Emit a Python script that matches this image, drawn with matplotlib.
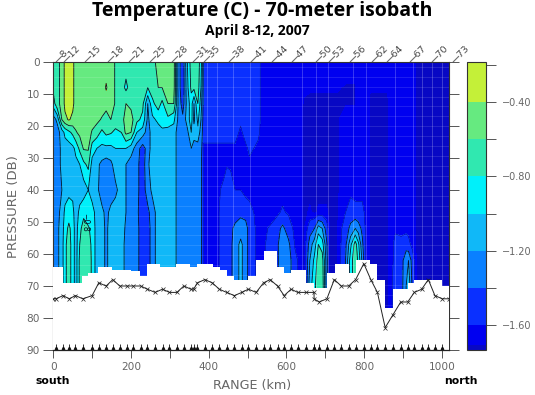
"""Temperature section along the 70-meter isobath, April 2007."""

import matplotlib
matplotlib.use("Agg")
import matplotlib.pyplot as plt
import numpy as np

depths = [0, 8, 13, 18, 22, 27, 32, 40, 47, 52, 57, 62, 70, 80]

# one row per column of the section: range (km), then temperature at each depth
section_km = [0, 10, 22, 30, 40, 50, 58, 68, 78, 90, 100, 112, 125, 136, 148, 160, 175, 187, 200, 215,
              230, 243, 255, 270, 280, 295, 310, 322, 333, 345, 355, 362, 372, 380, 387, 420, 440, 446,
              456, 468, 482, 495, 505, 527, 535, 568, 590, 605, 622, 635, 645, 660, 672, 682, 692, 703,
              712, 730, 752, 765, 777, 785, 795, 805, 815, 860, 872, 880, 895, 908, 914, 924, 935, 1019]
temperature = [
    [-.75, -.75, -.90, -1.3, -1.3, -1.3, -1.3, -1.3, -1.3, -1.3, -1.3, -1.3, -1.3, -1.3],
    [-.65, -.65, -.65, -1.15, -1.3, -1.3, -1.3, -1.3, -1.25, -1.25, -1.25, -1.25, -1.25, -1.25],
    [-.55, -.55, -.55, -.60, -1.1, -1.15, -1.15, -1.2, -1.15, -1.1, -1.1, -1.1, -1.1, -1.1],
    [-.35, -.35, -.35, -.45, -.95, -1.1, -1.1, -1.1, -.95, -.90, -.85, -.85, -.85, -.85],
    [-.35, -.35, -.35, -.38, -.85, -1.1, -1.1, -1.05, -.90, -.75, -.70, -.70, -.70, -.70],
    [-.35, -.35, -.35, -.45, -.75, -1.05, -1.1, -1.05, -.95, -.90, -.90, -.90, -.90, -.90],
    [-.50, -.50, -.50, -.50, -.62, -.95, -1.05, -1.1, -1.1, -1.1, -1.1, -1.1, -1.1, -1.1],
    [-.50, -.50, -.50, -.50, -.55, -.75, -1.0, -1.1, -.95, -.85, -.80, -.75, -.75, -.75],
    [-.50, -.50, -.50, -.50, -.52, -.58, -.85, -1.1, -.85, -.72, -.68, -.65, -.60, -.60],
    [-.50, -.50, -.50, -.50, -.52, -.58, -.75, -1.0, -.90, -.78, -.70, -.65, -.65, -.65],
    [-.50, -.50, -.50, -.52, -.62, -.90, -1.08, -1.12, -.90, -.85, -.85, -.85, -.85, -.85],
    [-.50, -.50, -.50, -.55, -.70, -1.0, -1.15, -1.15, -1.1, -1.1, -1.1, -1.1, -1.1, -1.1],
    [-.50, -.50, -.50, -.62, -.85, -1.05, -1.25, -1.3, -1.15, -1.1, -1.1, -1.1, -1.1, -1.1],
    [-.50, -.38, -.50, -.72, -.75, -1.05, -1.3, -1.3, -1.25, -1.25, -1.25, -1.25, -1.25, -1.25],
    [-.50, -.50, -.50, -.60, -.78, -1.05, -1.25, -1.3, -1.15, -1.1, -1.1, -1.1, -1.1, -1.1],
    [-.62, -.62, -.62, -.68, -.85, -1.0, -1.1, -1.25, -1.1, -1.05, -1.05, -1.05, -1.05, -1.05],
    [-.70, -.70, -.70, -.70, -.80, -1.0, -1.1, -1.1, -1.05, -1.05, -1.05, -1.05, -1.05, -1.05],
    [-.70, -.85, -.60, -.50, -.55, -1.0, -1.2, -1.2, -1.2, -1.25, -1.3, -1.3, -1.3, -1.3],
    [-.70, -.70, -.65, -.52, -.60, -1.1, -1.3, -1.3, -1.3, -1.3, -1.3, -1.3, -1.3, -1.3],
    [-.70, -.70, -.70, -.75, -1.0, -1.3, -1.35, -1.35, -1.35, -1.35, -1.35, -1.35, -1.35, -1.35],
    [-.70, -.70, -.75, -.85, -1.1, -1.5, -1.5, -1.5, -1.55, -1.5, -1.5, -1.5, -1.5, -1.5],
    [-.70, -.80, -1.2, -1.25, -1.3, -1.3, -1.25, -1.3, -1.45, -1.5, -1.5, -1.5, -1.5, -1.5],
    [-.70, -.70, -.85, -1.05, -1.1, -1.1, -1.05, -1.15, -1.3, -1.3, -1.3, -1.3, -1.3, -1.3],
    [-.50, -.60, -.70, -.95, -1.1, -1.1, -1.1, -1.1, -1.1, -1.1, -1.1, -1.1, -1.1, -1.1],
    [-.50, -.60, -.85, -.90, -1.05, -1.1, -1.1, -1.1, -1.1, -1.1, -1.1, -1.1, -1.1, -1.1],
    [-.50, -.52, -.60, -.85, -1.1, -1.1, -1.1, -1.1, -1.1, -1.1, -1.1, -1.1, -1.1, -1.1],
    [-.50, -.52, -.60, -.95, -1.1, -1.1, -1.1, -1.1, -1.1, -1.1, -1.1, -1.1, -1.1, -1.1],
    [-1.3, -1.3, -1.25, -1.25, -1.3, -1.3, -1.3, -1.3, -1.3, -1.3, -1.3, -1.3, -1.3, -1.3],
    [-1.55, -1.55, -1.5, -1.35, -1.3, -1.3, -1.3, -1.3, -1.3, -1.3, -1.3, -1.3, -1.3, -1.3],
    [-1.0, -1.05, -1.1, -1.1, -1.25, -1.3, -1.3, -1.3, -1.3, -1.3, -1.3, -1.3, -1.3, -1.3],
    [-.70, -.75, -.90, -.90, -1.0, -1.2, -1.25, -1.3, -1.3, -1.3, -1.3, -1.3, -1.3, -1.3],
    [-.70, -.75, -1.2, -1.25, -1.1, -1.3, -1.3, -1.3, -1.3, -1.3, -1.3, -1.3, -1.3, -1.3],
    [-.70, -.70, -.80, -.95, -1.05, -1.3, -1.3, -1.3, -1.3, -1.3, -1.3, -1.3, -1.3, -1.3],
    [-.90, -1.0, -1.1, -1.2, -1.3, -1.3, -1.35, -1.35, -1.35, -1.35, -1.35, -1.35, -1.35, -1.35],
    [-1.5, -1.5, -1.5, -1.5, -1.5, -1.65, -1.65, -1.65, -1.65, -1.65, -1.65, -1.65, -1.65, -1.65],
    [-1.5, -1.5, -1.5, -1.5, -1.5, -1.65, -1.65, -1.65, -1.65, -1.65, -1.65, -1.65, -1.65, -1.65],
    [-1.5, -1.5, -1.5, -1.5, -1.5, -1.65, -1.65, -1.55, -1.5, -1.5, -1.5, -1.5, -1.5, -1.5],
    [-1.5, -1.5, -1.5, -1.5, -1.5, -1.65, -1.62, -1.45, -1.45, -1.45, -1.45, -1.42, -1.42, -1.42],
    [-1.5, -1.5, -1.5, -1.5, -1.5, -1.65, -1.63, -1.5, -1.45, -1.45, -1.45, -1.45, -1.45, -1.45],
    [-1.5, -1.5, -1.5, -1.5, -1.5, -1.65, -1.65, -1.6, -1.5, -1.35, -1.3, -1.3, -1.3, -1.3],
    [-1.5, -1.5, -1.5, -1.55, -1.65, -1.65, -1.65, -1.6, -1.45, -1.3, -1.15, -1.15, -1.15, -1.15],
    [-1.5, -1.5, -1.5, -1.5, -1.5, -1.65, -1.65, -1.65, -1.5, -1.3, -1.3, -1.3, -1.3, -1.3],
    [-1.5, -1.5, -1.5, -1.5, -1.5, -1.55, -1.65, -1.65, -1.55, -1.5, -1.5, -1.5, -1.5, -1.5],
    [-1.5, -1.5, -1.5, -1.5, -1.55, -1.65, -1.65, -1.65, -1.65, -1.65, -1.65, -1.65, -1.65, -1.65],
    [-1.65, -1.65, -1.65, -1.65, -1.65, -1.65, -1.65, -1.65, -1.65, -1.65, -1.65, -1.65, -1.65, -1.65],
    [-1.65, -1.65, -1.65, -1.65, -1.65, -1.65, -1.65, -1.65, -1.65, -1.55, -1.5, -1.5, -1.5, -1.5],
    [-1.65, -1.65, -1.65, -1.65, -1.65, -1.65, -1.65, -1.65, -1.58, -1.35, -1.3, -1.3, -1.3, -1.3],
    [-1.65, -1.65, -1.65, -1.65, -1.65, -1.65, -1.65, -1.65, -1.62, -1.5, -1.35, -1.3, -1.3, -1.3],
    [-1.65, -1.65, -1.65, -1.65, -1.65, -1.65, -1.65, -1.65, -1.65, -1.65, -1.62, -1.55, -1.55, -1.55],
    [-1.65, -1.65, -1.65, -1.65, -1.65, -1.65, -1.65, -1.65, -1.65, -1.65, -1.65, -1.65, -1.65, -1.65],
    [-1.65, -1.68, -1.73, -1.73, -1.73, -1.73, -1.73, -1.73, -1.73, -1.73, -1.73, -1.73, -1.73, -1.73],
    [-1.65, -1.70, -1.73, -1.73, -1.73, -1.73, -1.73, -1.73, -1.70, -1.5, -1.3, -1.2, -1.1, -1.1],
    [-1.65, -1.70, -1.73, -1.73, -1.73, -1.73, -1.73, -1.73, -1.73, -1.4, -1.1, -.95, -.85, -.85],
    [-1.65, -1.70, -1.73, -1.73, -1.73, -1.73, -1.73, -1.73, -1.70, -1.1, -.80, -.70, -.65, -.65],
    [-1.65, -1.70, -1.73, -1.73, -1.73, -1.73, -1.73, -1.73, -1.70, -1.2, -.90, -.70, -.65, -.65],
    [-1.65, -1.70, -1.73, -1.73, -1.73, -1.73, -1.73, -1.73, -1.70, -1.5, -1.35, -1.3, -1.3, -1.3],
    [-1.65, -1.70, -1.73, -1.73, -1.73, -1.73, -1.73, -1.73, -1.73, -1.73, -1.73, -1.73, -1.73, -1.73],
    [-1.65, -1.70, -1.73, -1.73, -1.73, -1.73, -1.73, -1.73, -1.73, -1.73, -1.73, -1.73, -1.73, -1.73],
    [-1.65, -1.72, -1.72, -1.65, -1.65, -1.65, -1.65, -1.65, -1.60, -1.5, -1.45, -1.4, -1.4, -1.4],
    [-1.65, -1.72, -1.72, -1.65, -1.65, -1.65, -1.65, -1.65, -1.5, -1.35, -1.05, -.90, -.90, -.90],
    [-1.65, -1.72, -1.72, -1.65, -1.65, -1.65, -1.65, -1.65, -1.55, -1.2, -.70, -.65, -.65, -.65],
    [-1.65, -1.65, -1.65, -1.65, -1.65, -1.65, -1.65, -1.65, -1.55, -1.3, -.95, -.85, -.85, -.85],
    [-1.65, -1.65, -1.65, -1.65, -1.65, -1.65, -1.65, -1.65, -1.55, -1.45, -1.35, -1.25, -1.25, -1.25],
    [-1.65, -1.65, -1.65, -1.65, -1.65, -1.65, -1.65, -1.65, -1.65, -1.65, -1.65, -1.65, -1.65, -1.65],
    [-1.65, -1.70, -1.73, -1.73, -1.73, -1.73, -1.73, -1.73, -1.73, -1.73, -1.73, -1.73, -1.73, -1.73],
    [-1.65, -1.70, -1.73, -1.73, -1.73, -1.73, -1.73, -1.73, -1.73, -1.73, -1.73, -1.73, -1.73, -1.73],
    [-1.65, -1.65, -1.65, -1.65, -1.65, -1.65, -1.65, -1.65, -1.65, -1.65, -1.65, -1.65, -1.60, -1.60],
    [-1.65, -1.65, -1.65, -1.65, -1.65, -1.65, -1.65, -1.65, -1.65, -1.65, -1.5, -1.5, -1.45, -1.45],
    [-1.65, -1.65, -1.65, -1.65, -1.65, -1.65, -1.65, -1.65, -1.65, -1.65, -1.55, -1.5, -1.5, -1.5],
    [-1.65, -1.65, -1.65, -1.65, -1.65, -1.65, -1.65, -1.65, -1.65, -1.65, -1.5, -1.25, -1.2, -1.2],
    [-1.65, -1.65, -1.65, -1.65, -1.65, -1.65, -1.65, -1.65, -1.65, -1.65, -1.55, -1.2, -1.05, -1.05],
    [-1.65, -1.65, -1.65, -1.65, -1.65, -1.65, -1.65, -1.65, -1.65, -1.65, -1.65, -1.5, -1.45, -1.45],
    [-1.73, -1.73, -1.73, -1.73, -1.73, -1.73, -1.73, -1.73, -1.73, -1.73, -1.73, -1.73, -1.73, -1.73],
    [-1.73, -1.73, -1.73, -1.73, -1.73, -1.73, -1.73, -1.73, -1.73, -1.73, -1.73, -1.73, -1.73, -1.73],
]

# stepped lower edge of the sampled data
mask_edges = [0, 26, 75, 90, 116, 150, 199, 223, 242, 275, 317, 352, 371, 410, 429, 446, 466, 502, 522,
              541, 575, 594, 612, 650, 671, 705, 725, 760, 778, 815, 832, 854, 873, 912, 929, 1000, 1019]
mask_depths = [64.2, 69, 67, 66, 64, 65, 65.3, 67, 63, 64, 63, 64, 63, 64, 65, 67, 68, 67, 62,
               59, 64, 66, 65, 69, 70.5, 66, 63, 66, 62, 63, 68, 77, 71, 69, 68, 70]

station_km = [0, 7, 25, 41, 57, 76, 100, 117, 136, 153, 171, 189, 206, 225, 242, 262, 281, 299, 318, 336,
              354, 361, 371, 390, 409, 427, 446, 466, 485, 502, 522, 541, 558, 577, 594, 612, 629, 650,
              671, 671, 684, 704, 723, 741, 760, 778, 799, 817, 834, 854, 874, 894, 912, 929, 948, 965,
              982, 1001, 1019]
bottom_depth = [74, 74, 73, 74, 73, 74, 73, 69, 70, 68, 70, 70, 70, 70, 71, 72, 71, 72, 72, 70,
                71, 71, 69, 68, 69, 71, 72, 73, 72, 71, 72, 69, 68, 70, 73, 71, 72, 72,
                72, 74, 75, 74, 68, 70, 70, 68, 63, 68, 72, 83, 79, 75, 75, 72, 71, 68,
                73, 74, 74]

top_labels = ["8", "12", "15", "18", "21", "25", "28", "31", "35", "38", "41",
              "44", "47", "50", "53", "56", "62", "64", "67", "70", "73"]
top_km = [7, 28, 82, 139, 193, 249, 304, 358, 388, 452, 508,
          563, 614, 676, 710, 764, 820, 859, 916, 973, 1027]

levels = [-1.735, -1.71, -1.6, -1.4, -1.2, -1.0, -0.8, -0.6, -0.4, -0.184]
band_colors = ["#0808c4", "#0000f0", "#0a30ff", "#0a80ff", "#10b8f8", "#00f0fa", "#30e8b0", "#66ea80", "#c4f038"]
line_levels = [-1.4, -1.2, -1.0, -0.8, -0.6, -0.4]
cbar_ticks = [-0.2, -0.4, -0.6, -0.8, -1.0, -1.2, -1.4, -1.6]
cbar_labels = ["", "\u22120.40", "", "\u22120.80", "", "\u22121.20", "", "\u22121.60"]

GRAY = "#666666"
W, H = 535, 395


def main():
    fig = plt.figure(figsize=(W / 100, H / 100), dpi=100)
    ax = fig.add_axes([53.3 / W, 1 - 350 / H, (449.3 - 53.3) / W, 288 / H])
    cax = fig.add_axes([467 / W, 1 - 350 / H, 19 / W, 288 / H])

    temp = np.array(temperature).T
    filled = ax.contourf(section_km, depths, temp, levels=levels, colors=band_colors)
    ax.contour(section_km, depths, temp, levels=line_levels, colors="#04102a", linewidths=0.6,
               negative_linestyles="solid")
    ax.contour(section_km, depths, temp, levels=[-1.6], colors="#000070", linewidths=0.3,
               negative_linestyles="solid")

    # faint seams of the gridded field
    ax.hlines(np.arange(1.5, 80, 3.1), 0, 1019, colors="white", linewidths=0.5, alpha=0.16)
    ax.vlines([395, 420, 462, 505, 640, 676, 708, 770, 805, 880, 925, 950, 975, 1000], 0, 80,
              colors="white", linewidths=0.5, alpha=0.3)

    ax.fill_between(mask_edges, mask_depths + [mask_depths[-1]], 91, step="post", color="white", zorder=3, lw=0)

    ax.plot(station_km, bottom_depth, color="#222222", lw=0.7, marker="x", ms=2.4, mew=0.5, zorder=4)
    ax.plot(station_km[1:-1], [89.4] * len(station_km[1:-1]), ls="", marker="^", ms=1.8, color="#111111",
            zorder=4, clip_on=False)
    ax.plot(station_km[1:-1], [89.2] * len(station_km[1:-1]), ls="", marker="|", ms=4, mew=0.6, color="#111111",
            zorder=4, clip_on=False)
    ax.plot([0, 1019], [90, 90], color="#222222", lw=0.9, zorder=4, clip_on=False)

    ax.set_xlim(0, 1019)
    ax.set_ylim(90, 0)
    ax.set_xticks(np.arange(0, 1001, 100))
    ax.set_xticklabels(["0", "", "200", "", "400", "", "600", "", "800", "", "1000"])
    ax.set_yticks(np.arange(0, 91, 10))
    ax.tick_params(axis="both", direction="out", width=0.7, color="#555555",
                   labelsize=7.6, labelcolor=GRAY)
    ax.tick_params(axis="y", right=True, length=7.2, pad=2.5)
    ax.tick_params(axis="x", length=5.8, pad=3.2)
    for side in ("top", "left", "right", "bottom"):
        ax.spines[side].set_linewidth(0.8)
        ax.spines[side].set_color("#333333")
    ax.spines["bottom"].set_visible(False)

    for km, label in zip(top_km, top_labels):
        ax.annotate("\u2014" + label, (km, 0), xytext=(0, 0), textcoords="offset points", rotation=45,
                    rotation_mode="anchor", ha="left", va="center", fontsize=6.8, color="#444444",
                    annotation_clip=False)

    ax.text(81, 50, "\u22120.8", rotation=270, fontsize=5.6, ha="center", va="center", color="#04102a", zorder=2)

    cbar = fig.colorbar(filled, cax=cax, spacing="proportional", ticks=cbar_ticks)
    cbar.ax.set_yticklabels(cbar_labels)
    cbar.ax.tick_params(direction="out", length=7.2, width=0.7, color="#555555", labelsize=7,
                        labelcolor=GRAY, pad=4)
    cbar.outline.set_linewidth(0.8)
    cbar.outline.set_edgecolor("#333333")

    fig.text(262 / W, 1 - 11 / H, "Temperature (C) - 70-meter isobath", ha="center", va="center",
             fontsize=14, fontweight="bold", color="black", family="Open Sans")
    fig.text(257 / W, 1 - 31 / H, "April 8-12, 2007", ha="center", va="center",
             fontsize=10, fontweight="bold", color="black", family="Open Sans")
    fig.text(252 / W, 1 - 386 / H, "RANGE (km)", ha="center", va="center", fontsize=9.2, color=GRAY)
    fig.text(14 / W, 1 - 207 / H, "PRESSURE (DB)", ha="center", va="center", rotation=90, fontsize=9.5, color=GRAY)
    fig.text(53 / W, 1 - 381 / H, "south", ha="center", va="center", fontsize=7.8, fontweight="bold", color="black")
    fig.text(461 / W, 1 - 381 / H, "north", ha="center", va="center", fontsize=7.8, fontweight="bold", color="black")

    fig.savefig("out.png", dpi=100)
    plt.close(fig)


if __name__ == "__main__":
    main()
